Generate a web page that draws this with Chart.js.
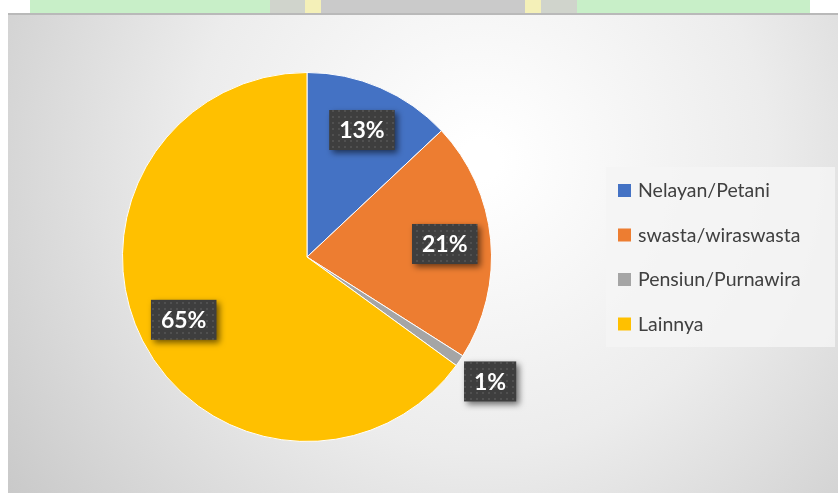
<!DOCTYPE html>
<html>
<head>
<meta charset="utf-8">
<script src="https://cdn.jsdelivr.net/npm/chart.js@4/dist/chart.umd.min.js"></script>
<style>
  html, body { margin: 0; padding: 0; background: #fff; }
  #wrap { width: 838px; height: 493px; position: relative; }
</style>
</head>
<body>
<div id="wrap"><canvas id="chart" width="838" height="493"></canvas></div>
<script>
// Pekerjaan orang tua
const kategori = ["Nelayan/Petani", "swasta/wiraswasta", "Pensiun/Purnawira", "Lainnya"];
const persen = [13, 21, 1, 65];
const warna = ["#4472C4", "#ED7D31", "#A5A5A5", "#FFC000"];

// pola titik-titik untuk kotak label
function makeDotPattern(ctx) {
    const p = document.createElement("canvas");
    p.width = 6; p.height = 6;
    const pc = p.getContext("2d");
    pc.fillStyle = "#3e3e3e";
    pc.fillRect(0, 0, 6, 6);
    pc.fillStyle = "#505050";
    pc.fillRect(2, 2, 2, 2);
    return ctx.createPattern(p, "repeat");
}

// latar: pita hijau di atas + panel abu-abu bergradasi
const latar = {
    id: "latar",
    beforeDraw(chart) {
        const ctx = chart.ctx;
        const W = chart.width, H = chart.height;
        ctx.save();
        ctx.fillStyle = "#ffffff";
        ctx.fillRect(0, 0, W, H);
        // pita hijau
        ctx.fillStyle = "#c8efc8";
        ctx.fillRect(30, 0, 780, 13);
        ctx.fillStyle = "#d0d4cc";
        ctx.fillRect(270, 0, 35, 13);
        ctx.fillStyle = "#f4f0b8";
        ctx.fillRect(305, 0, 16, 13);
        ctx.fillStyle = "#cacaca";
        ctx.fillRect(321, 0, 204, 13);
        ctx.fillStyle = "#f4f0b8";
        ctx.fillRect(525, 0, 16, 13);
        ctx.fillStyle = "#d0d4cc";
        ctx.fillRect(541, 0, 36, 13);
        // panel
        const g = ctx.createRadialGradient(480, 160, 20, 480, 160, 620);
        g.addColorStop(0, "#ffffff");
        g.addColorStop(0.45, "#ececec");
        g.addColorStop(1, "#c4c4c4");
        ctx.fillStyle = g;
        ctx.fillRect(8, 13, W - 8, H - 13);
        ctx.fillStyle = "#b9b9b9";
        ctx.fillRect(8, 13, W - 8, 2);
        ctx.restore();
    }
};

// kotak label persentase
const labelPersen = {
    id: "labelPersen",
    afterDatasetsDraw(chart) {
        const ctx = chart.ctx;
        const pola = makeDotPattern(ctx);
        const total = persen.reduce((a, b) => a + b, 0);
        chart.getDatasetMeta(0).data.forEach((arc, i) => {
            const mid = (arc.startAngle + arc.endAngle) / 2;
            const kecil = persen[i] / total < 0.03;
            const r = arc.outerRadius * (kecil ? 1.2 : 0.75);
            const cx = arc.x + Math.cos(mid) * r;
            const cy = arc.y + Math.sin(mid) * r;
            const teks = persen[i] + "%";
            ctx.save();
            ctx.font = "bold 23px Lato";
            const w = ctx.measureText(teks).width + 20;
            const h = 40;
            ctx.shadowColor = "rgba(0,0,0,0.55)";
            ctx.shadowBlur = 6;
            ctx.shadowOffsetX = 3;
            ctx.shadowOffsetY = 3;
            ctx.fillStyle = pola;
            ctx.fillRect(cx - w / 2, cy - h / 2, w, h);
            ctx.shadowColor = "transparent";
            ctx.fillStyle = "#ffffff";
            ctx.textAlign = "center";
            ctx.textBaseline = "middle";
            ctx.fillText(teks, cx, cy + 1);
            ctx.restore();
        });
    }
};

// legenda di kanan
const legenda = {
    id: "legenda",
    afterDraw(chart) {
        const ctx = chart.ctx;
        ctx.save();
        ctx.fillStyle = "rgba(245,245,245,0.85)";
        ctx.fillRect(606, 167, 229, 180);
        ctx.font = "19.5px Lato";
        ctx.textBaseline = "middle";
        kategori.forEach((k, i) => {
            const y = 190 + i * 44.5;
            ctx.fillStyle = warna[i];
            ctx.fillRect(618, y - 6, 13, 13);
            ctx.fillStyle = "#404040";
            ctx.fillText(k, 638, y + 1);
        });
        ctx.restore();
    }
};

new Chart(document.getElementById("chart"), {
    type: "pie",
    data: {
        labels: kategori,
        datasets: [{
            data: persen,
            backgroundColor: warna,
            borderColor: "#ffffff",
            borderWidth: 1
        }]
    },
    options: {
        responsive: false,
        animation: false,
        layout: { padding: { left: 122, top: 72, right: 346, bottom: 51 } },
        plugins: {
            legend: { display: false },
            tooltip: { enabled: false }
        }
    },
    plugins: [latar, labelPersen, legenda]
});
</script>
</body>
</html>
